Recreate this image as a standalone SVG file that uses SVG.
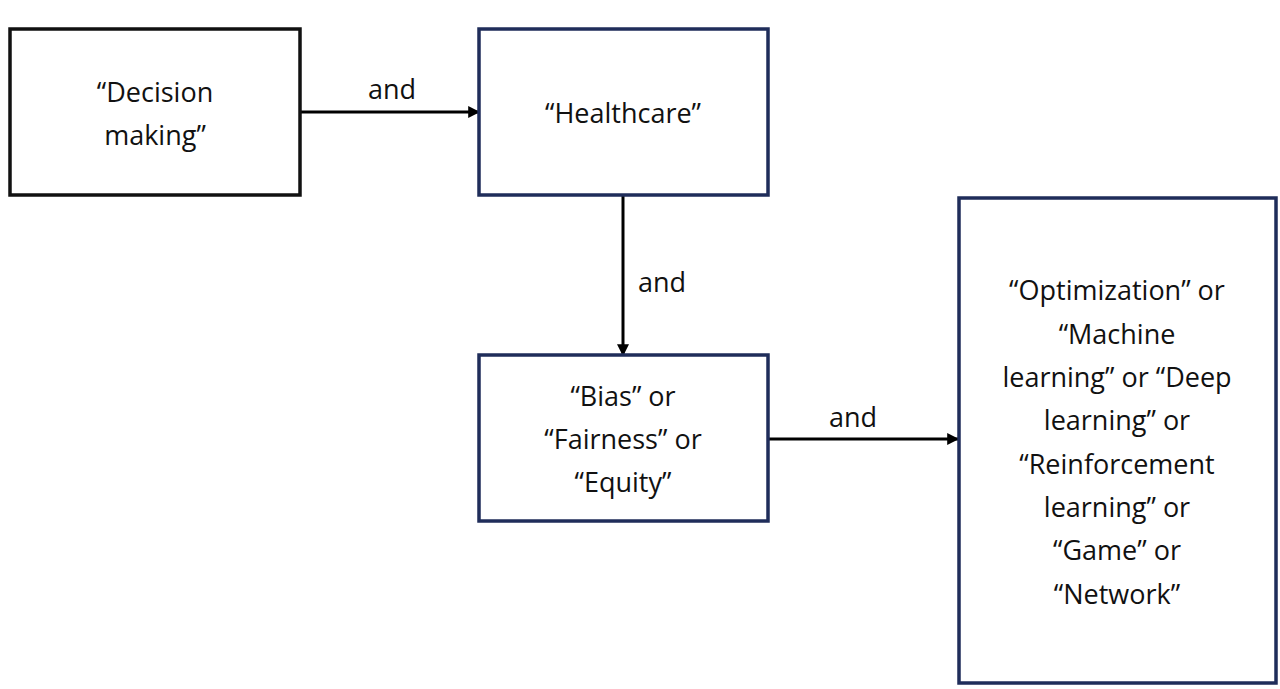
<svg xmlns="http://www.w3.org/2000/svg" width="1280" height="689" viewBox="0 0 1280 689">
<style>
.b{fill:#fff;stroke-width:3.5}
.n{stroke:#1f2d5a}
.k{stroke:#111}
text{font-family:"Open Sans","Liberation Sans",sans-serif;font-size:27px;fill:#111;text-anchor:middle}
.c{stroke:#000;stroke-width:3;fill:none;marker-end:url(#a)}
</style>
<defs><marker id="a" viewBox="0 0 10 10" refX="9" refY="5" markerWidth="4" markerHeight="4" orient="auto"><path d="M0,0L10,5L0,10z" fill="#000"/></marker></defs>
<rect width="1280" height="689" fill="#fff"/>
<g id="connectors">
<path class="c" d="M300,112H479"/>
<text x="392" y="99">and</text>
<path class="c" d="M623,196V355"/>
<text x="662" y="292">and</text>
<path class="c" d="M768,439H958"/>
<text x="853" y="427">and</text>
</g>
<g id="n1"><rect class="b k" x="10" y="29" width="290" height="166"/><text x="155" y="102">“Decision</text><text x="155" y="145">making”</text></g>
<g id="n2"><rect class="b n" x="479" y="29" width="289" height="166"/><text x="623" y="123">“Healthcare”</text></g>
<g id="n3"><rect class="b n" x="479" y="355" width="289" height="166"/><text x="623" y="406">“Bias” or</text><text x="623" y="449">“Fairness” or</text><text x="623" y="492">“Equity”</text></g>
<g id="n4"><rect class="b n" x="959" y="198" width="317" height="485"/>
<text x="1117" y="300">“Optimization” or</text><text x="1117" y="344">“Machine</text><text x="1117" y="387">learning” or “Deep</text><text x="1117" y="430">learning” or</text><text x="1117" y="474">“Reinforcement</text><text x="1117" y="517">learning” or</text><text x="1117" y="560">“Game” or</text><text x="1117" y="604">“Network”</text></g>
</svg>
